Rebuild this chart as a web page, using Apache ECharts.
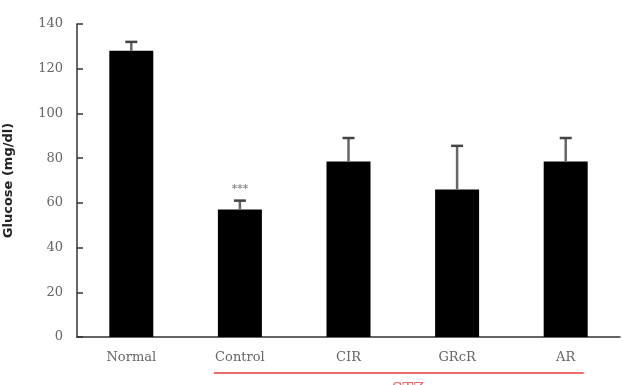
<!DOCTYPE html>
<html>
<head>
<meta charset="utf-8">
<script src="https://cdn.jsdelivr.net/npm/echarts@6/dist/echarts.min.js"></script>
<style>
html,body{margin:0;padding:0;background:#fff;}
#main{width:623px;height:385px;}
</style>
</head>
<body>
<div id="main"></div>
<script>
var groups = ['Normal', 'Control', 'CIR', 'GRcR', 'AR'];
var glucose = [128, 57, 78.5, 66, 78.5];
var errors = [4, 4, 10.5, 19.5, 10.5];
var marks = ['', '***', '', '', ''];
var yTicks = [0, 20, 40, 60, 80, 100, 120, 140];

var chart = echarts.init(document.getElementById('main'));

var errData = groups.map(function (g, i) {
	return [i, glucose[i], glucose[i] + errors[i], marks[i]];
});

chart.setOption({
	animation: false,
	grid: { left: 77, right: 3, top: 24, bottom: 48, containLabel: false, outerBoundsMode: 'none' },
	xAxis: {
		type: 'category',
		data: groups,
		axisLine: { lineStyle: { color: '#333', width: 1.5 } },
		axisTick: { inside: true, length: 6, lineStyle: { color: '#333', width: 1.5 } },
		axisLabel: { color: '#666', fontFamily: 'DejaVu Serif', fontSize: 13, margin: 14 }
	},
	yAxis: {
		type: 'value',
		min: yTicks[0],
		max: yTicks[yTicks.length - 1],
		interval: 20,
		name: 'Glucose (mg/dl)',
		nameLocation: 'middle',
		nameGap: 62,
		nameTextStyle: { color: '#222', fontFamily: 'DejaVu Sans', fontSize: 13, fontWeight: 'bold' },
		axisLine: { show: true, lineStyle: { color: '#333', width: 1.5 } },
		axisTick: { show: true, inside: true, length: 6, lineStyle: { color: '#333', width: 1.5 } },
		axisLabel: { color: '#666', fontFamily: 'DejaVu Serif', fontSize: 13, margin: 14 },
		splitLine: { show: false }
	},
	series: [{
		type: 'bar',
		data: glucose,
		barWidth: 44,
		itemStyle: { color: '#000' }
	}, {
		type: 'custom',
		data: errData,
		z: 5,
		renderItem: function (params, api) {
			var base = api.coord([api.value(0), api.value(1)]);
			var top = api.coord([api.value(0), api.value(2)]);
			var kids = [{
				type: 'line',
				shape: { x1: base[0], y1: base[1], x2: top[0], y2: top[1] },
				style: { stroke: '#666', lineWidth: 2.5 }
			}, {
				type: 'line',
				shape: { x1: top[0] - 6, y1: top[1], x2: top[0] + 6, y2: top[1] },
				style: { stroke: '#444', lineWidth: 2.5 }
			}];
			var m = marks[params.dataIndex];
			if (m) {
				kids.push({
					type: 'text',
					style: { text: m, x: top[0], y: top[1] - 6, align: 'center', verticalAlign: 'bottom',
						fill: '#777', font: '11px DejaVu Serif' }
				});
			}
			return { type: 'group', children: kids };
		}
	}]
});

// red underline for the treated groups
var p1 = chart.convertToPixel({ xAxisIndex: 0 }, 1);
var p4 = chart.convertToPixel({ xAxisIndex: 0 }, 4);
chart.setOption({
	graphic: [{
		type: 'line',
		shape: { x1: p1 - 26, y1: 373, x2: p4 + 18, y2: 373 },
		style: { stroke: '#ee6b6b', lineWidth: 2 }
	}, {
		type: 'text',
		x: 408, y: 382,
		style: { text: 'STZ', fill: '#ee6b6b', font: '16px DejaVu Serif', align: 'center' }
	}]
});
</script>
</body>
</html>
